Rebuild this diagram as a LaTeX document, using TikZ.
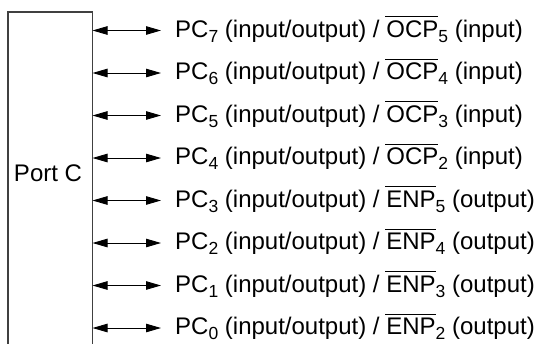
\documentclass[tikz,border=0pt]{standalone}
\usepackage{fontspec}
\setmainfont{Liberation Sans}
\usetikzlibrary{arrows.meta}
\newcommand\mysub[1]{\raisebox{-5pt}{\fontsize{17.5}{17.5}\selectfont #1}}
\newcommand\ovl[1]{\setbox0\hbox{#1}\rlap{\hspace{-1pt}\rule[\dimexpr\ht0+3pt\relax]{\dimexpr\wd0+1pt\relax}{1.1pt}}\box0}
\begin{document}
\begin{tikzpicture}[x=1pt,y=-1pt,
  lbl/.style={anchor=base west, inner xsep=14pt, inner ysep=0pt, font=\fontsize{24}{28}\selectfont},
  bidir/.style={{Triangle[length=15pt,width=8.5pt]}-{Triangle[length=15pt,width=8.5pt]}, line width=0.9pt},
  portbox/.style={draw=black!75, line width=1.1pt}]
\useasboundingbox (0,0) rectangle (538,343);
\clip (0,0) rectangle (538,343);
\coordinate (bl) at (8,360);
\coordinate (br) at (92.5,360);
\coordinate (tl) at (8,12);
\coordinate (tr) at (92.5,12);
\draw[portbox] (bl) -- (tl) -- (tr) -- (br);
\node[anchor=base, inner sep=0pt, font=\fontsize{24}{28}\selectfont] (port) at (48,181.7) {Port C};
\foreach \pc/\sig/\sn/\dir [count=\k from 0] in {7/OCP/5/input, 6/OCP/4/input, 5/OCP/3/input, 4/OCP/2/input, 3/ENP/5/output, 2/ENP/4/output, 1/ENP/3/output, 0/ENP/2/output}{
  \pgfmathsetmacro\yy{30.5+42.5*\k}
  \coordinate (a\k) at (92.5,\yy);
  \coordinate (b\k) at (161,\yy);
  \draw[bidir] (a\k) -- (b\k);
  \node[lbl] (t\k) at ([yshift=-6.5pt]b\k) {PC\mysub{\pc} (input/output) / \ovl{\sig}\mysub{\sn} (\dir)};
}
\end{tikzpicture}
\end{document}
